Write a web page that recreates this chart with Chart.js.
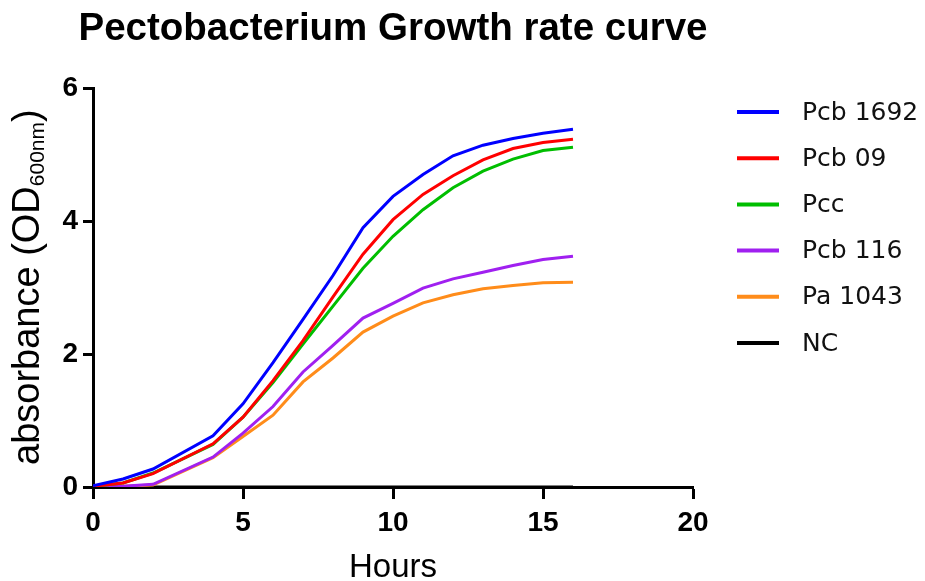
<!DOCTYPE html>
<html>
<head>
<meta charset="utf-8">
<script src="https://cdn.jsdelivr.net/npm/chart.js@4"></script>
<style>
html, body { margin: 0; padding: 0; background: #fff; }
</style>
</head>
<body>
<canvas id="graphe" width="925" height="581"></canvas>
<script>
// Données
var V_hours    = [0, 1, 2, 4, 5, 6, 7, 8, 9, 10, 11, 12, 13, 14, 15, 16];
var V_pcb1692  = [0.02, 0.12, 0.27, 0.77, 1.25, 1.87, 2.52, 3.18, 3.90, 4.37, 4.70, 4.98, 5.14, 5.24, 5.32, 5.38];
var V_pcb09    = [0.01, 0.06, 0.20, 0.65, 1.05, 1.60, 2.20, 2.86, 3.50, 4.02, 4.40, 4.68, 4.92, 5.09, 5.18, 5.23];
var V_pcc      = [0.01, 0.06, 0.21, 0.64, 1.05, 1.57, 2.15, 2.72, 3.29, 3.77, 4.17, 4.50, 4.75, 4.93, 5.06, 5.11];
var V_pcb116   = [0.00, 0.01, 0.04, 0.45, 0.81, 1.21, 1.73, 2.13, 2.54, 2.76, 2.99, 3.13, 3.23, 3.33, 3.42, 3.47];
var V_pa1043   = [0.00, 0.01, 0.03, 0.44, 0.76, 1.08, 1.58, 1.94, 2.33, 2.57, 2.77, 2.89, 2.98, 3.03, 3.07, 3.08];
var V_nc       = [0, 0, 0, 0, 0, 0, 0, 0, 0, 0, 0, 0, 0, 0, 0, 0];

var V_labels = ['Pcb 1692', 'Pcb 09', 'Pcc', 'Pcb 116', 'Pa 1043', 'NC'];
var V_colors = ['#0000FF', '#FF0000', '#00BE00', '#A020F0', '#FF8C1A', '#000000'];
var V_series = [V_pcb1692, V_pcb09, V_pcc, V_pcb116, V_pa1043, V_nc];

var V_xTicks = [0, 5, 10, 15, 20];
var V_yTicks = [0, 2, 4, 6];

var S_title = 'Pectobacterium Growth rate curve';
var S_xTitle = 'Hours';
var S_yTitle = 'absorbance (OD';
var S_ySub = '600nm';

function F_points(V_y){
    var V_pts = [];
    for (var i = 0; i < V_hours.length; i++) { V_pts.push({x: V_hours[i], y: V_y[i]}); }
    return V_pts;
}

var V_datasets = [];
for (var i = 0; i < V_series.length; i++) {
    V_datasets.push({
        label: V_labels[i],
        data: F_points(V_series[i]),
        borderColor: V_colors[i],
        backgroundColor: V_colors[i],
        borderWidth: 3,
        pointRadius: 0,
        tension: 0,
        fill: false
    });
}
// NC dessiné en dessous des autres
V_datasets[5].order = 10;

// Titres, étiquette Y avec indice, légende
var O_textPlugin = {
    id: 'textes',
    afterDraw: function(chart){
        var ctx = chart.ctx;
        var area = chart.chartArea;
        var cx = (area.left + area.right) / 2;
        ctx.save();
        ctx.fillStyle = '#000';

        ctx.font = 'bold 38.5px "Liberation Sans", Arial, sans-serif';
        ctx.textAlign = 'center';
        ctx.textBaseline = 'alphabetic';
        ctx.fillText(S_title, cx, 40);

        ctx.font = '33px "Liberation Sans", Arial, sans-serif';
        ctx.fillText(S_xTitle, cx, 577);

        ctx.save();
        ctx.translate(39, 465);
        ctx.rotate(-Math.PI / 2);
        ctx.textAlign = 'left';
        ctx.font = '38px "Liberation Sans", Arial, sans-serif';
        ctx.fillText(S_yTitle, 0, 0);
        var w1 = ctx.measureText(S_yTitle).width;
        ctx.font = '21px "Liberation Sans", Arial, sans-serif';
        ctx.fillText(S_ySub, w1, 5);
        var w2 = ctx.measureText(S_ySub).width;
        ctx.font = '38px "Liberation Sans", Arial, sans-serif';
        ctx.fillText(')', w1 + w2, 0);
        ctx.restore();

        ctx.textAlign = 'left';
        ctx.textBaseline = 'middle';
        ctx.font = '25px "DejaVu Sans", sans-serif';
        chart.data.datasets.forEach(function(ds, k){
            var y = 112 + k * 46.2;
            ctx.strokeStyle = ds.borderColor;
            ctx.lineWidth = 4;
            ctx.beginPath();
            ctx.moveTo(737, y);
            ctx.lineTo(779, y);
            ctx.stroke();
            ctx.fillStyle = '#111';
            ctx.fillText(ds.label, 802, y + 1);
        });
        ctx.restore();
    }
};

var O_tickFont = {family: '"Liberation Sans", Arial, sans-serif', size: 28, weight: 'bold'};

var O_ctx = document.getElementById('graphe').getContext('2d');
var O_graphe = new Chart(O_ctx, {
    type: 'line',
    data: { datasets: V_datasets },
    options: {
        responsive: false,
        animation: false,
        layout: { padding: { top: 88, right: 232, left: 0, bottom: 0 } },
        plugins: {
            legend: { display: false },
            title: { display: false },
            tooltip: { enabled: false }
        },
        scales: {
            x: {
                type: 'linear',
                min: 0,
                max: 20,
                afterBuildTicks: function(scale){ scale.ticks = V_xTicks.map(function(v){ return {value: v}; }); },
                afterFit: function(scale){ scale.height = 94; },
                ticks: { font: O_tickFont, color: '#000', padding: 7, maxRotation: 0 },
                grid: { drawOnChartArea: false, drawTicks: true, tickLength: 12, tickWidth: 3, tickColor: '#000' },
                border: { display: true, color: '#000', width: 3 }
            },
            y: {
                min: 0,
                max: 6,
                afterBuildTicks: function(scale){ scale.ticks = V_yTicks.map(function(v){ return {value: v}; }); },
                afterFit: function(scale){ scale.width = 93; },
                ticks: { font: O_tickFont, color: '#000', padding: 5 },
                grid: { drawOnChartArea: false, drawTicks: true, tickLength: 10, tickWidth: 3, tickColor: '#000' },
                border: { display: true, color: '#000', width: 3 }
            }
        }
    },
    plugins: [O_textPlugin]
});
</script>
</body>
</html>
